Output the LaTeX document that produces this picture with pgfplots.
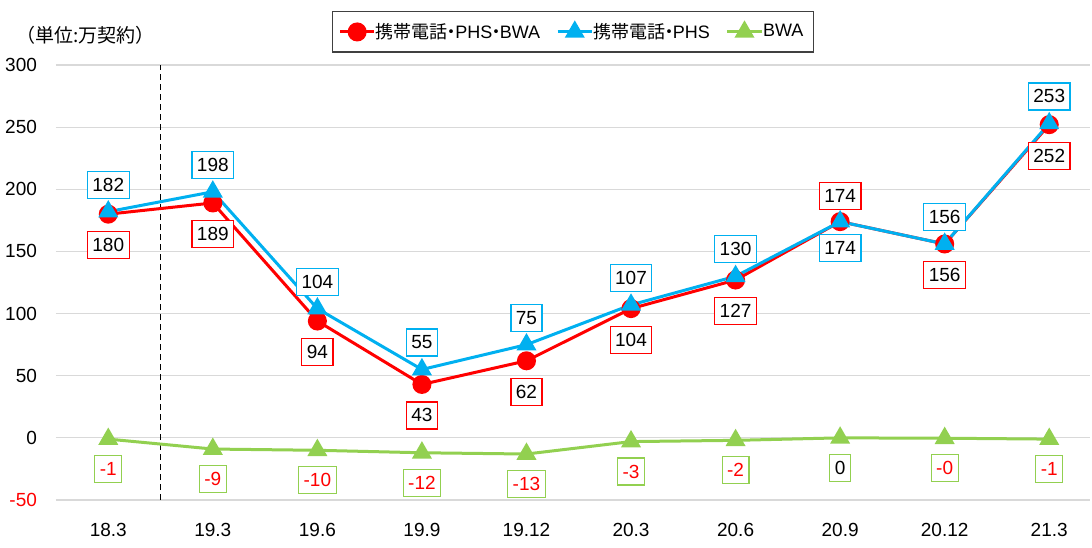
\documentclass[border=0pt]{standalone}
\usepackage{fontspec}
\setmainfont{Liberation Sans}
\newfontfamily\cjk{Noto Sans CJK JP}
\usepackage{pgfplots}
\pgfplotsset{compat=1.18}

\definecolor{cred}{RGB}{255,0,0}
\definecolor{cblue}{RGB}{0,176,240}
\definecolor{cgreen}{RGB}{146,208,80}

% narrow middle dot as in the reference legend
\newcommand{\ldot}{\hbox to 0.42em{\hss{\cjk ・}\hss}}

\pgfplotsset{
  lbl/.style n args={3}{draw=none, mark=none, forget plot,
    point meta=explicit symbolic, nodes near coords,
    every node near coord/.append style={anchor=center, draw=#1, fill=white,
      text=#3, line width=0.6pt, inner xsep=2.5pt, inner ysep=1.5pt,
      minimum height=13.5pt, yshift=#2,
      font=\fontsize{9.5}{11}\selectfont}},
}

\begin{document}
\begin{tikzpicture}
\path[use as bounding box] (0,0) rectangle (546pt,273.5pt);
\begin{axis}[
  at={(28pt,23.5pt)}, anchor=south west,
  scale only axis, width=517pt, height=217.5pt,
  xmin=-0.5, xmax=9.39, ymin=-50, ymax=300,
  axis line style={draw=none}, major tick length=0pt,
  ymajorgrids, grid style={black!15, line width=0.6pt},
  ytick={-50,0,...,300},
  yticklabels={\textcolor{cred}{-50},0,50,100,150,200,250,300},
  xtick={0,...,9},
  xticklabels={18.3,19.3,19.6,19.9,19.12,20.3,20.6,20.9,20.12,21.3},
  ticklabel style={font=\fontsize{9.5}{11}\selectfont},
  yticklabel style={xshift=-6pt},
  xticklabel style={yshift=-8pt},
  /pgf/number format/assume math mode=true,
  legend columns=3,
  legend style={at={(0.5,1.076)}, anchor=center, draw=black!75,
    line width=0.6pt, font=\fontsize{9}{11}\selectfont,
    inner xsep=3pt, inner ysep=3.5pt,
    /tikz/every even column/.append style={column sep=6pt},
    /tikz/every odd column/.append style={column sep=-2pt}},
]
% dashed separator
\addplot[black, line width=0.9pt, dash pattern=on 3pt off 2pt, forget plot]
  coordinates {(0.5,-50) (0.5,300)};

\addplot[cred, line width=1.5pt, mark=*, mark size=4pt,
  mark options={solid, fill=cred}]
  coordinates {(0,180) (1,189) (2,94) (3,43) (4,62) (5,104) (6,127) (7,174) (8,156) (9,252)};
\addlegendentry{{\cjk 携帯電話}\ldot PHS\ldot BWA}

\addplot[cblue, line width=1.5pt, mark=triangle*, mark size=4.3pt,
  mark options={solid, fill=cblue}]
  coordinates {(0,182) (1,198) (2,104) (3,55) (4,75) (5,107) (6,130) (7,174) (8,156) (9,253)};
\addlegendentry{{\cjk 携帯電話}\ldot PHS}

\addplot[cgreen, line width=1.5pt, mark=triangle*, mark size=4.3pt,
  mark options={solid, fill=cgreen}]
  coordinates {(0,-1) (1,-9) (2,-10) (3,-12) (4,-13) (5,-3) (6,-2) (7,0) (8,-0.3) (9,-1)};
\addlegendentry{BWA}

% data labels
\addplot[lbl={cred}{-15.5pt}{black}] coordinates {(0,180)[180] (1,189)[189] (2,94)[94]
  (3,43)[43] (4,62)[62] (5,104)[104] (6,127)[127] (8,156)[156] (9,252)[252]};
\addplot[lbl={cred}{13pt}{black}] coordinates {(7,174)[174]};
\addplot[lbl={cblue}{13.5pt}{black}] coordinates {(0,182)[182] (1,198)[198] (2,104)[104]
  (3,55)[55] (4,75)[75] (5,107)[107] (6,130)[130] (8,156)[156] (9,253)[253]};
\addplot[lbl={cblue}{-13pt}{black}] coordinates {(7,174)[174]};
\addplot[lbl={cgreen}{-15pt}{cred}] coordinates {(0,-1)[-1] (1,-9)[-9] (2,-10)[-10]
  (3,-12)[-12] (4,-13)[-13] (5,-3)[-3] (6,-2)[-2] (8,-0.3)[-0] (9,-1)[-1]};
\addplot[lbl={cgreen}{-15pt}{black}] coordinates {(7,0)[0]};
\end{axis}
\node[anchor=west, inner sep=0pt, font=\cjk\fontsize{9.5}{11}\selectfont]
  at (8pt,256pt) {（単位:万契約）};
\end{tikzpicture}
\end{document}
